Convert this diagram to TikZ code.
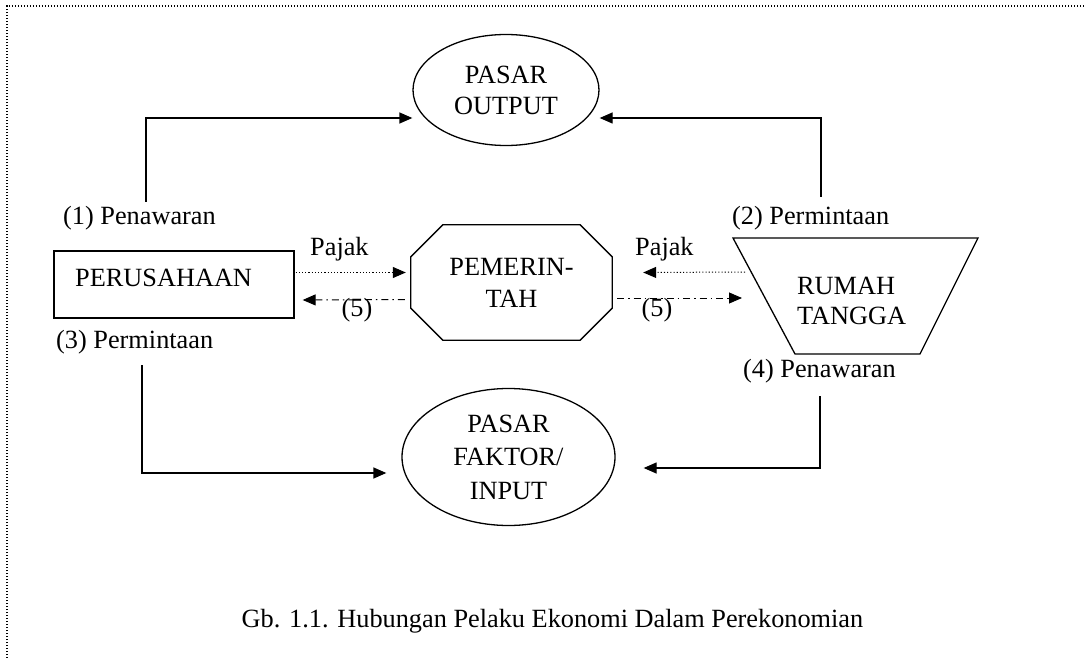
\documentclass[tikz,border=0pt]{standalone}
\usepackage{fontspec}
\setmainfont{Liberation Serif}
\usetikzlibrary{arrows.meta,calc,shapes.geometric}
\begin{document}
\begin{tikzpicture}[x=1pt,y=-1pt,
  every node/.style={font=\fontsize{26.3}{31}\selectfont, inner sep=0pt},
  shapeline/.style={draw, line width=1.3pt},
  oval/.style={shapeline, ellipse, align=center},
  tip/.style={-{Triangle[length=13pt,width=11pt]}},
  flow/.style={tip, line width=1.3pt},
  taxflow/.style={tip, line width=1pt, dash pattern=on 1.1pt off 2.1pt},
  transfer/.style={tip, line width=1pt, dash pattern=on 7pt off 4pt on 1.5pt off 4pt},
  lbl/.style={anchor=base west},
  border/.style={line width=1.4pt, dash pattern=on 1.4pt off 1.6pt}]
\useasboundingbox (0,0) rectangle (1085,658);
\draw[border] (7,658) -- (7,6) -- (1085,6);

% markets
\node[oval, minimum width=186pt, minimum height=111pt] (pout) at (506,90) {PASAR\\OUTPUT};
\node[oval, minimum width=213pt, minimum height=137pt, font=\fontsize{26.3}{33.5}\selectfont] (pin) at (508.5,457) {PASAR\\FAKTOR/\\INPUT};

% firm
\node[shapeline, minimum width=240pt, minimum height=67pt] (per) at (174,284.5) {};
\node[anchor=base west] (pertext) at (75,286) {PERUSAHAAN};

% government (octagon)
\node[align=center, font=\fontsize{26.3}{32}\selectfont, minimum width=201pt, minimum height=115pt] (pem) at (511.5,282.5) {PEMERIN-\\TAH};
\draw[shapeline] ($(pem.north west)+(32,0)$) -- ($(pem.north east)+(-32,0)$) -- ($(pem.north east)+(0,32)$) -- ($(pem.south east)+(0,-32)$) -- ($(pem.south east)+(-32,0)$) -- ($(pem.south west)+(32,0)$) -- ($(pem.south west)+(0,-32)$) -- ($(pem.north west)+(0,32)$) -- cycle;

% households (trapezoid)
\coordinate (rtA) at (733,238);
\coordinate (rtB) at (978,238);
\coordinate (rtC) at (920,354);
\coordinate (rtD) at (795,354);
\draw[shapeline] (rtA) -- (rtB) -- (rtC) -- (rtD) -- cycle;
\node[align=left, anchor=north west, font=\fontsize{26.3}{29.5}\selectfont] (rt) at (797,277) {RUMAH\\TANGGA};

% labels
\node[lbl] (l1) at (63,225) {(1) Penawaran};
\node[lbl] (l2) at (732,225) {(2) Permintaan};
\node[lbl] (l3) at (56,348) {(3) Permintaan};
\node[lbl] (l4) at (743,377) {(4) Penawaran};
\node[lbl] (p1) at (310,255) {Pajak};
\node[lbl] (p2) at (635,255) {Pajak};
\node[anchor=base] (f1) at (357,316) {(5)};
\node[anchor=base] (f2) at (657,316) {(5)};
\node[anchor=base] (cap) at (552.5,627) {Gb. 1.1. Hubungan Pelaku Ekonomi Dalam Perekonomian};

% connector end points
\coordinate (s1) at (146,202);
\coordinate (s2) at (821,197);
\coordinate (s3) at (142,365);
\coordinate (s4) at (820,396);
\coordinate (tr1) at (745,272);
\coordinate (tr2) at (742,298);

% market flows
\draw[flow] (s1) |- ($(pout.west)+(0,28)$);
\draw[flow] (s2) |- ($(pout.east)+(0,28)$);
\draw[flow] (s3) |- ($(pin.west)+(-15,16)$);
\draw[flow] (s4) |- ($(pin.east)+(28,11)$);

% taxes
\draw[taxflow] ($(per.east)+(1,-12)$) -- ($(pem.west)+(-5,-10)$);
\draw[taxflow] (tr1) -- ($(pem.east)+(31,-10)$);

% transfers (5)
\draw[transfer] ($(pem.west)+(-6,17)$) -- ($(per.east)+(8,15.5)$);
\draw[transfer] ($(pem.east)+(5,15.5)$) -- (tr2);
\end{tikzpicture}
\end{document}
